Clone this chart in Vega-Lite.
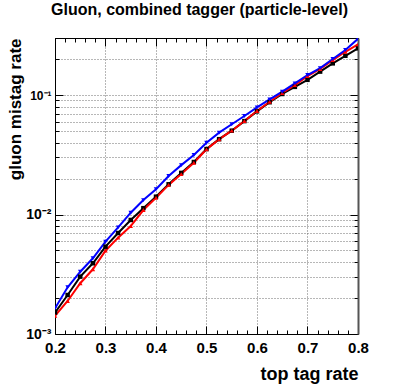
{
  "$schema": "https://vega.github.io/schema/vega-lite/v6.json",
  "autosize": {"type": "none"},
  "width": 303,
  "height": 296,
  "padding": {"left": 55, "top": 38, "right": 41, "bottom": 51},
  "background": "white",
  "config": {
    "view": {"stroke": null},
    "font": "Liberation Sans",
    "axis": {"domainColor": "black", "tickColor": "black", "labelColor": "black", "titleColor": "black"}
  },
  "title": {
    "text": "Gluon, combined tagger (particle-level)",
    "font": "Liberation Sans",
    "fontSize": 16,
    "fontWeight": "bold",
    "color": "black",
    "anchor": "middle",
    "dx": -7,
    "offset": 13
  },
  "datasets": {
    "curves": [
      {"x": 0.2, "rate": 0.00151, "series": "black"},
      {"x": 0.225, "rate": 0.00212, "series": "black"},
      {"x": 0.25, "rate": 0.00302, "series": "black"},
      {"x": 0.275, "rate": 0.00391, "series": "black"},
      {"x": 0.3, "rate": 0.00538, "series": "black"},
      {"x": 0.325, "rate": 0.0070, "series": "black"},
      {"x": 0.35, "rate": 0.0090, "series": "black"},
      {"x": 0.375, "rate": 0.0113, "series": "black"},
      {"x": 0.4, "rate": 0.0141, "series": "black"},
      {"x": 0.425, "rate": 0.0179, "series": "black"},
      {"x": 0.45, "rate": 0.0223, "series": "black"},
      {"x": 0.475, "rate": 0.0275, "series": "black"},
      {"x": 0.5, "rate": 0.0353, "series": "black"},
      {"x": 0.525, "rate": 0.0427, "series": "black"},
      {"x": 0.55, "rate": 0.0503, "series": "black"},
      {"x": 0.575, "rate": 0.0605, "series": "black"},
      {"x": 0.6, "rate": 0.073, "series": "black"},
      {"x": 0.625, "rate": 0.087, "series": "black"},
      {"x": 0.65, "rate": 0.102, "series": "black"},
      {"x": 0.675, "rate": 0.117, "series": "black"},
      {"x": 0.7, "rate": 0.134, "series": "black"},
      {"x": 0.725, "rate": 0.157, "series": "black"},
      {"x": 0.75, "rate": 0.184, "series": "black"},
      {"x": 0.775, "rate": 0.213, "series": "black"},
      {"x": 0.8, "rate": 0.246, "series": "black"},
      {"x": 0.2, "rate": 0.00142, "series": "red"},
      {"x": 0.225, "rate": 0.00189, "series": "red"},
      {"x": 0.25, "rate": 0.00266, "series": "red"},
      {"x": 0.275, "rate": 0.00348, "series": "red"},
      {"x": 0.3, "rate": 0.00498, "series": "red"},
      {"x": 0.325, "rate": 0.0064, "series": "red"},
      {"x": 0.35, "rate": 0.0080, "series": "red"},
      {"x": 0.375, "rate": 0.0109, "series": "red"},
      {"x": 0.4, "rate": 0.0138, "series": "red"},
      {"x": 0.425, "rate": 0.0177, "series": "red"},
      {"x": 0.45, "rate": 0.0218, "series": "red"},
      {"x": 0.475, "rate": 0.0271, "series": "red"},
      {"x": 0.5, "rate": 0.0351, "series": "red"},
      {"x": 0.525, "rate": 0.0426, "series": "red"},
      {"x": 0.55, "rate": 0.0503, "series": "red"},
      {"x": 0.575, "rate": 0.0606, "series": "red"},
      {"x": 0.6, "rate": 0.0735, "series": "red"},
      {"x": 0.625, "rate": 0.0879, "series": "red"},
      {"x": 0.65, "rate": 0.104, "series": "red"},
      {"x": 0.675, "rate": 0.121, "series": "red"},
      {"x": 0.7, "rate": 0.144, "series": "red"},
      {"x": 0.725, "rate": 0.165, "series": "red"},
      {"x": 0.75, "rate": 0.196, "series": "red"},
      {"x": 0.775, "rate": 0.230, "series": "red"},
      {"x": 0.8, "rate": 0.265, "series": "red"},
      {"x": 0.2, "rate": 0.00164, "series": "blue"},
      {"x": 0.225, "rate": 0.00246, "series": "blue"},
      {"x": 0.25, "rate": 0.00332, "series": "blue"},
      {"x": 0.275, "rate": 0.0043, "series": "blue"},
      {"x": 0.3, "rate": 0.00592, "series": "blue"},
      {"x": 0.325, "rate": 0.0078, "series": "blue"},
      {"x": 0.35, "rate": 0.01035, "series": "blue"},
      {"x": 0.375, "rate": 0.0132, "series": "blue"},
      {"x": 0.4, "rate": 0.0163, "series": "blue"},
      {"x": 0.425, "rate": 0.0210, "series": "blue"},
      {"x": 0.45, "rate": 0.0259, "series": "blue"},
      {"x": 0.475, "rate": 0.0315, "series": "blue"},
      {"x": 0.5, "rate": 0.0399, "series": "blue"},
      {"x": 0.525, "rate": 0.0484, "series": "blue"},
      {"x": 0.55, "rate": 0.0569, "series": "blue"},
      {"x": 0.575, "rate": 0.0667, "series": "blue"},
      {"x": 0.6, "rate": 0.0789, "series": "blue"},
      {"x": 0.625, "rate": 0.092, "series": "blue"},
      {"x": 0.65, "rate": 0.1066, "series": "blue"},
      {"x": 0.675, "rate": 0.125, "series": "blue"},
      {"x": 0.7, "rate": 0.147, "series": "blue"},
      {"x": 0.725, "rate": 0.168, "series": "blue"},
      {"x": 0.75, "rate": 0.200, "series": "blue"},
      {"x": 0.775, "rate": 0.238, "series": "blue"},
      {"x": 0.8, "rate": 0.295, "series": "blue"}
    ]
  },
  "data": {"name": "curves"},
  "resolve": {"axis": {"x": "independent", "y": "independent"}},
  "layer": [
    {
      "mark": {"type": "line", "strokeWidth": 2, "clip": true},
      "encoding": {
        "x": {
          "field": "x", "type": "quantitative",
          "scale": {"domain": [0.2, 0.8], "nice": false, "zero": false},
          "axis": {
            "orient": "bottom",
            "values": [0.2, 0.22, 0.24, 0.26, 0.28, 0.3, 0.32, 0.34, 0.36, 0.38, 0.4, 0.42, 0.44, 0.46, 0.48, 0.5, 0.52, 0.54, 0.56, 0.58, 0.6, 0.62, 0.64, 0.66, 0.68, 0.7, 0.72, 0.74, 0.76, 0.78, 0.8],
            "labelExpr": "abs(datum.value*10-round(datum.value*10))<0.001 ? format(datum.value,'.1f') : ''",
            "tickSize": {"condition": {"test": "abs(datum.value*10-round(datum.value*10))<0.001", "value": -8}, "value": -4},
            "labelPadding": 14,
            "labelOverlap": false,
            "labelFlush": false,
            "labelFont": "Liberation Sans",
            "labelFontWeight": "bold",
            "labelFontSize": 15,
            "grid": true,
            "gridColor": "#6e6e6e",
            "gridDash": [1, 2],
            "gridOpacity": {"condition": {"test": "abs(datum.value*10-round(datum.value*10))<0.001", "value": 1}, "value": 0},
            "domainColor": "black",
            "title": "top tag rate",
            "titleAnchor": "end",
            "titleFont": "Liberation Sans",
            "titleFontWeight": "bold",
            "titleFontSize": 18,
            "titlePadding": 6
          }
        },
        "y": {
          "field": "rate", "type": "quantitative",
          "scale": {"type": "log", "domain": [0.001, 0.3], "nice": false},
          "axis": {
            "orient": "left",
            "values": [0.001, 0.002, 0.003, 0.004, 0.005, 0.006, 0.007, 0.008, 0.009, 0.01, 0.02, 0.03, 0.04, 0.05, 0.06, 0.07, 0.08, 0.09, 0.1, 0.2, 0.3],
            "labelExpr": "datum.value==0.1 ? '10⁻¹' : datum.value==0.01 ? '10⁻²' : datum.value==0.001 ? '10⁻³' : ''",
            "tickSize": {"condition": {"test": "datum.value==0.1 || datum.value==0.01 || datum.value==0.001", "value": -8}, "value": -4},
            "labelPadding": 12,
            "labelOverlap": false,
            "labelFlush": false,
            "labelFont": "Liberation Sans",
            "labelFontWeight": "bold",
            "labelFontSize": {"condition": {"test": "datum.value==0.1", "value": 12}, "value": 14},
            "grid": true,
            "gridColor": "#6e6e6e",
            "gridDash": [1, 2],
            "domainColor": "black",
            "title": "gluon mistag rate",
            "titleAnchor": "end",
            "titleFont": "Liberation Sans",
            "titleFontWeight": "bold",
            "titleFontSize": 17,
            "titlePadding": 1
          }
        },
        "color": {
          "field": "series", "type": "nominal",
          "scale": {"domain": ["black", "red", "blue"], "range": ["#000000", "#ff0000", "#0000ff"]},
          "legend": null
        },
        "order": {"field": "x", "type": "quantitative"}
      }
    },
    {
      "mark": {"type": "point", "filled": true, "size": 20, "opacity": 1, "clip": true},
      "encoding": {
        "x": {
          "field": "x", "type": "quantitative",
          "axis": {
            "orient": "top",
            "values": [0.2, 0.22, 0.24, 0.26, 0.28, 0.3, 0.32, 0.34, 0.36, 0.38, 0.4, 0.42, 0.44, 0.46, 0.48, 0.5, 0.52, 0.54, 0.56, 0.58, 0.6, 0.62, 0.64, 0.66, 0.68, 0.7, 0.72, 0.74, 0.76, 0.78, 0.8],
            "labels": false,
            "grid": false,
            "tickSize": {"condition": {"test": "abs(datum.value*10-round(datum.value*10))<0.001", "value": -8}, "value": -4},
            "domainColor": "black",
            "title": null
          }
        },
        "y": {
          "field": "rate", "type": "quantitative",
          "axis": {
            "orient": "right",
            "values": [0.001, 0.002, 0.003, 0.004, 0.005, 0.006, 0.007, 0.008, 0.009, 0.01, 0.02, 0.03, 0.04, 0.05, 0.06, 0.07, 0.08, 0.09, 0.1, 0.2, 0.3],
            "labels": false,
            "grid": false,
            "tickSize": {"condition": {"test": "datum.value==0.1 || datum.value==0.01 || datum.value==0.001", "value": -8}, "value": -4},
            "domainColor": "#555555",
            "domainWidth": 2,
            "title": null
          }
        },
        "color": {
          "field": "series", "type": "nominal",
          "scale": {"domain": ["black", "red", "blue"], "range": ["#000000", "#ff0000", "#0000ff"]},
          "legend": null
        },
        "shape": {
          "field": "series", "type": "nominal",
          "scale": {"domain": ["black", "red", "blue"], "range": ["square", "triangle-up", "triangle-down"]},
          "legend": null
        }
      }
    }
  ]
}
